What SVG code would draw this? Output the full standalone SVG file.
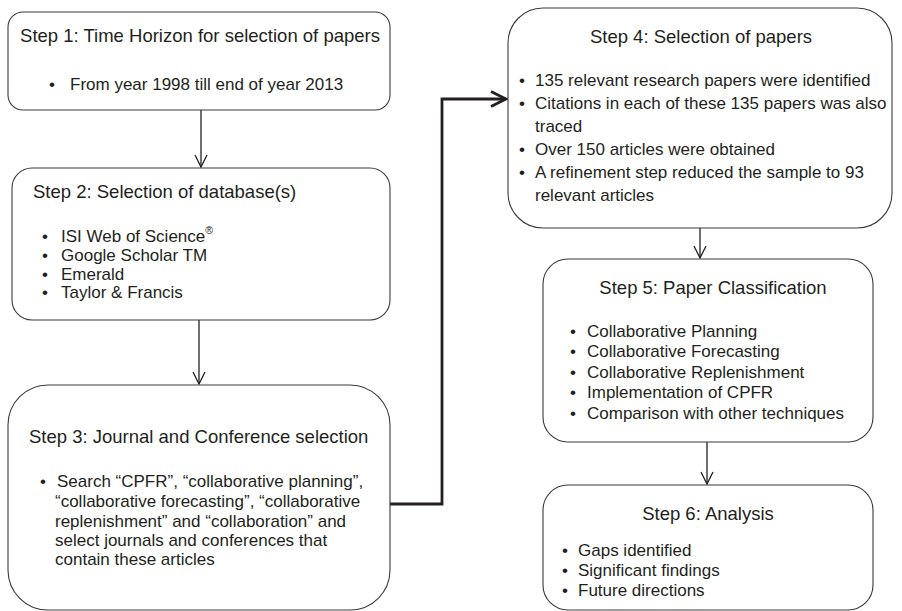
<svg xmlns="http://www.w3.org/2000/svg" width="902" height="611" viewBox="0 0 902 611">
<defs>
<style>
.box{fill:#fff;stroke:#3a3a3a;stroke-width:1.1}
text{font-family:"Liberation Sans",Arial,sans-serif;font-size:17px;fill:#231f20}
.t{font-size:18.5px}
.c{text-anchor:middle}
.thin{fill:none;stroke:#231f20;stroke-width:1.3}
.thick{fill:none;stroke:#231f20;stroke-width:2.8}
</style>
<marker id="ah" viewBox="0 0 14 14" refX="13" refY="7" markerWidth="14" markerHeight="14" markerUnits="userSpaceOnUse" orient="auto">
<path d="M1,1 L13,7 L1,13" fill="none" stroke="#231f20" stroke-width="1.3"/>
</marker>
<marker id="ahb" viewBox="0 0 18 18" refX="16" refY="9" markerWidth="18" markerHeight="18" markerUnits="userSpaceOnUse" orient="auto">
<path d="M1,1.5 L16,9 L1,16.5" fill="none" stroke="#231f20" stroke-width="2.8"/>
</marker>
</defs>
<rect width="902" height="611" fill="#fff"/>
<g id="connectors">
<line class="thin" x1="201" y1="110" x2="201" y2="167" marker-end="url(#ah)"/>
<line class="thin" x1="199" y1="320" x2="199" y2="384" marker-end="url(#ah)"/>
<polyline class="thick" points="390,504 442,504 442,99 506,99" marker-end="url(#ahb)"/>
<line class="thin" x1="700" y1="228" x2="700" y2="258" marker-end="url(#ah)"/>
<line class="thin" x1="707" y1="442" x2="707" y2="484" marker-end="url(#ah)"/>
</g>
<g id="step1">
<rect class="box" x="8" y="12" width="382" height="98" rx="15"/>
<text class="t c" x="200" y="42">Step 1: Time Horizon for selection of papers</text>
<text x="49" y="90">•</text><text x="70" y="90">From year 1998 till end of year 2013</text>
</g>
<g id="step2">
<rect class="box" x="12" y="168" width="378" height="152" rx="20"/>
<text class="t" x="33" y="198">Step 2: Selection of database(s)</text>
<text x="42" y="242">•</text><text x="61" y="242">ISI Web of Science<tspan font-size="10.5" dy="-8">®</tspan></text>
<text x="42" y="261">•</text><text x="61" y="261">Google Scholar TM</text>
<text x="42" y="280">•</text><text x="61" y="280">Emerald</text>
<text x="42" y="298">•</text><text x="61" y="298">Taylor &amp; Francis</text>
</g>
<g id="step3">
<rect class="box" x="8" y="385" width="382" height="225" rx="40"/>
<text class="t" x="29" y="443">Step 3: Journal and Conference selection</text>
<text x="40" y="487">•</text><text x="57" y="487">Search “CPFR”, “collaborative planning”,</text>
<text x="55" y="507">“collaborative forecasting”, “collaborative</text>
<text x="55" y="527">replenishment” and “collaboration” and</text>
<text x="55" y="546">select journals and conferences that</text>
<text x="55" y="565">contain these articles</text>
</g>
<g id="step4">
<rect class="box" x="508" y="8" width="384" height="220" rx="35"/>
<text class="t c" x="701" y="43">Step 4: Selection of papers</text>
<text x="519" y="86">•</text><text x="535" y="86">135 relevant research papers were identified</text>
<text x="519" y="109">•</text><text x="535" y="109">Citations in each of these 135 papers was also</text>
<text x="535" y="132">traced</text>
<text x="519" y="155">•</text><text x="535" y="155">Over 150 articles were obtained</text>
<text x="519" y="178">•</text><text x="535" y="178">A refinement step reduced the sample to 93</text>
<text x="535" y="201">relevant articles</text>
</g>
<g id="step5">
<rect class="box" x="543" y="259" width="330" height="183" rx="25"/>
<text class="t c" x="713" y="294">Step 5: Paper Classification</text>
<text x="570" y="337">•</text><text x="587" y="337">Collaborative Planning</text>
<text x="570" y="357">•</text><text x="587" y="357">Collaborative Forecasting</text>
<text x="570" y="378">•</text><text x="587" y="378">Collaborative Replenishment</text>
<text x="570" y="398">•</text><text x="587" y="398">Implementation of CPFR</text>
<text x="570" y="419">•</text><text x="587" y="419">Comparison with other techniques</text>
</g>
<g id="step6">
<rect class="box" x="543" y="485" width="330" height="125" rx="25"/>
<text class="t c" x="708" y="520">Step 6: Analysis</text>
<text x="562" y="556">•</text><text x="578" y="556">Gaps identified</text>
<text x="562" y="576">•</text><text x="578" y="576">Significant findings</text>
<text x="562" y="596">•</text><text x="578" y="596">Future directions</text>
</g>
</svg>
